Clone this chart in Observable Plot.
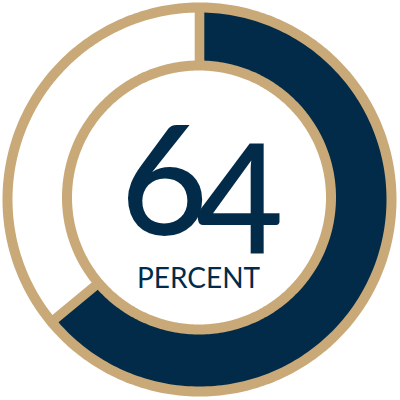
<!DOCTYPE html>
<html>
<head>
<meta charset="utf-8">
<script src="https://cdn.jsdelivr.net/npm/d3@7"></script>
<script src="https://cdn.jsdelivr.net/npm/@observablehq/plot@0.6"></script>
<style>
  html, body { margin: 0; padding: 0; background: #ffffff; }
  #chart { width: 400px; height: 400px; }
</style>
</head>
<body>
<div id="chart"></div>
<script>
// ---- data ----
const categories = ["Percent", "Remaining"];
const values = [64, 36];
const unitLabel = "PERCENT";

// ---- style ----
const navy = "#022b49";
const gold = "#c8a977";
const white = "#ffffff";
const sectorColors = [navy, white];

const R = 197;        // outer gold edge
const rBand = 187;    // outer edge of the value band
const rHidden = 100;  // inner edge (covered by inner disks)
const rInnerGold = 137;
const rInnerWhite = 127;
const halfGap = 4.8;
const innerOffset = {x: -0.5, y: 2};

function circle(r, off = {x: 0, y: 0}, n = 360) {
  return d3.range(n + 1).map(i => {
    const t = (i / n) * 2 * Math.PI;
    return {x: off.x + r * Math.sin(t), y: off.y + r * Math.cos(t)};
  });
}

function sector(a0, a1, ro, ri) {
  const pts = [];
  const n = 200;
  const o0 = a0 + Math.asin(halfGap / ro), o1 = a1 - Math.asin(halfGap / ro);
  for (let i = 0; i <= n; i++) {
    const t = o0 + (o1 - o0) * i / n;
    pts.push({x: ro * Math.sin(t), y: ro * Math.cos(t)});
  }
  const i0 = a0 + Math.asin(halfGap / ri), i1 = a1 - Math.asin(halfGap / ri);
  for (let i = 0; i <= n; i++) {
    const t = i1 + (i0 - i1) * i / n;
    pts.push({x: ri * Math.sin(t), y: ri * Math.cos(t)});
  }
  return pts;
}

const total = d3.sum(values);
let acc = 0;
const sectors = values.map((v, k) => {
  const a0 = acc / total * 2 * Math.PI;
  acc += v;
  const a1 = acc / total * 2 * Math.PI;
  return {category: categories[k], pts: sector(a0, a1, rBand, rHidden), fill: sectorColors[k]};
});

const digits = String(values[0]).split("");

const chart = Plot.plot({
  width: 400,
  height: 400,
  margin: 0,
  x: {domain: [-199, 201], axis: null},
  y: {domain: [-201, 199], axis: null},
  style: {background: "white"},
  marks: [
    Plot.line(circle(R), {x: "x", y: "y", fill: gold, stroke: "none", curve: "linear"}),
    ...sectors.map(s => Plot.line(s.pts, {x: "x", y: "y", fill: s.fill, stroke: "none", curve: "linear"})),
    Plot.line(circle(rInnerGold, innerOffset), {x: "x", y: "y", fill: gold, stroke: "none"}),
    Plot.line(circle(rInnerWhite, innerOffset), {x: "x", y: "y", fill: white, stroke: "none"}),
    // big number, old-style figures: first digit rises, second descends
    Plot.text([digits[0]], {x: () => 0, y: () => 0, text: d => d, textAnchor: "end", lineAnchor: "bottom",
      dx: 9, dy: 35, fontSize: 152, fontFamily: "Lato", fontWeight: 500, fill: navy}),
    Plot.text([digits[1]], {x: () => 0, y: () => 0, text: d => d, textAnchor: "start", lineAnchor: "bottom",
      dx: -4, dy: 53, fontSize: 152, fontFamily: "Lato", fontWeight: 500, fill: navy}),
    Plot.text([unitLabel], {x: () => 0, y: () => 0, text: d => d, textAnchor: "middle", lineAnchor: "bottom",
      dx: -1, dy: 88, fontSize: 28, fontFamily: "Lato", fontWeight: 400, fill: navy})
  ]
});

document.getElementById("chart").appendChild(chart);
</script>
</body>
</html>
